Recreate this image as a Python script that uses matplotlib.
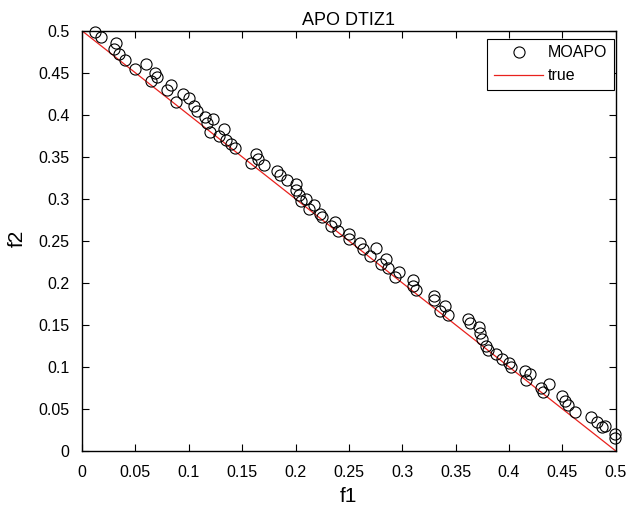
import matplotlib
matplotlib.use("Agg")
import matplotlib.pyplot as plt

plt.rcParams['font.family'] = ['Liberation Sans', 'DejaVu Sans']

# MOAPO approximated front
f1 = [0.012, 0.018, 0.030, 0.032, 0.035, 0.040, 0.050, 0.060, 0.065, 0.068,
      0.070, 0.080, 0.083, 0.088, 0.095, 0.100, 0.105, 0.108, 0.115, 0.117,
      0.120, 0.123, 0.128, 0.133, 0.135, 0.140, 0.143, 0.158, 0.163, 0.165,
      0.170, 0.183, 0.185, 0.192, 0.200, 0.200, 0.203, 0.205, 0.210, 0.213,
      0.217, 0.223, 0.225, 0.233, 0.237, 0.240, 0.250, 0.250, 0.260, 0.263,
      0.270, 0.275, 0.280, 0.285, 0.287, 0.293, 0.297, 0.310, 0.310, 0.313,
      0.330, 0.330, 0.335, 0.340, 0.343, 0.362, 0.363, 0.372, 0.373, 0.375,
      0.378, 0.380, 0.388, 0.393, 0.400, 0.402, 0.415, 0.416, 0.420, 0.430,
      0.432, 0.437, 0.450, 0.452, 0.455, 0.462, 0.477, 0.482, 0.487, 0.490,
      0.499, 0.499]
f2 = [0.498, 0.493, 0.478, 0.485, 0.472, 0.465, 0.455, 0.460, 0.440, 0.450,
      0.445, 0.430, 0.435, 0.415, 0.425, 0.420, 0.410, 0.405, 0.397, 0.390,
      0.380, 0.395, 0.375, 0.383, 0.370, 0.365, 0.360, 0.343, 0.353, 0.348,
      0.340, 0.333, 0.328, 0.323, 0.318, 0.310, 0.305, 0.298, 0.300, 0.288,
      0.293, 0.282, 0.278, 0.268, 0.273, 0.262, 0.258, 0.252, 0.248, 0.240,
      0.232, 0.242, 0.222, 0.228, 0.218, 0.207, 0.213, 0.203, 0.196, 0.192,
      0.185, 0.180, 0.167, 0.173, 0.162, 0.157, 0.152, 0.147, 0.140, 0.133,
      0.125, 0.120, 0.115, 0.110, 0.105, 0.100, 0.095, 0.085, 0.092, 0.075,
      0.070, 0.080, 0.065, 0.060, 0.055, 0.046, 0.040, 0.035, 0.028, 0.030,
      0.020, 0.015]

# true Pareto front
true_f1 = [0.0, 0.5]
true_f2 = [0.5, 0.0]

ticks = [0, 0.05, 0.1, 0.15, 0.2, 0.25, 0.3, 0.35, 0.4, 0.45, 0.5]
ticklabels = ['0', '0.05', '0.1', '0.15', '0.2', '0.25', '0.3', '0.35', '0.4', '0.45', '0.5']

fig = plt.figure(figsize=(6.28, 5.05), dpi=100)
ax = fig.add_axes([0.1306, 0.107, 0.850, 0.832])

ax.plot(f1, f2, 'o', mfc='none', mec='black', ms=8, mew=0.8, label='MOAPO',
        clip_on=False, zorder=3)
ax.plot(true_f1, true_f2, '-', color='#e8211d', lw=0.9, label='true')

ax.set_xlim(0, 0.5)
ax.set_ylim(0, 0.5)
ax.set_xticks(ticks)
ax.set_xticklabels(ticklabels)
ax.set_yticks(ticks)
ax.set_yticklabels(ticklabels)
ax.tick_params(direction='in', top=True, right=True, labelsize=11.5, length=5)
ax.tick_params(axis='x', pad=10)
ax.tick_params(axis='y', pad=9)
for sp in ax.spines.values():
    sp.set_linewidth(1.0)

ax.set_title('APO DTIZ1', fontsize=13, pad=4.5)
ax.set_xlabel('f1', fontsize=15)
ax.set_ylabel('f2', fontsize=15)
ax.xaxis.set_label_coords(0.5, -0.086)
ax.yaxis.set_label_coords(-0.103, 0.505)

leg = ax.legend(loc='upper right', bbox_to_anchor=(0.9963, 0.981), borderaxespad=0,
                fontsize=11.5, fancybox=False, edgecolor='black', framealpha=1,
                handlelength=3.1, labelspacing=0.5, borderpad=0.4, handletextpad=0.3)
leg.get_frame().set_linewidth(0.8)
leg.set_zorder(5)

fig.savefig('out.png', dpi=100)
